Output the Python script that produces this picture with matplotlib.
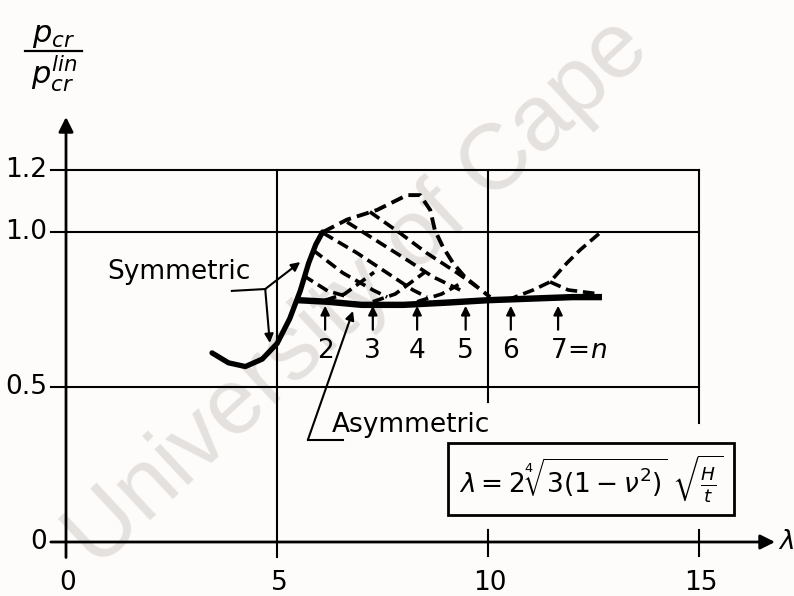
import matplotlib.pyplot as plt

plt.rcParams['mathtext.fontset'] = 'dejavusans'
plt.rcParams['font.family'] = 'DejaVu Sans'

# symmetric buckling branch (solid), rising up to the envelope
sym_x = [3.46, 3.85, 4.25, 4.65, 5.0, 5.3, 5.55, 5.75, 5.92, 6.08]
sym_y = [0.61, 0.578, 0.566, 0.59, 0.64, 0.72, 0.81, 0.9, 0.96, 1.0]

# dashed upper envelope of the symmetric region
env_x = [6.09, 6.66, 7.37, 8.08, 8.39, 8.63, 8.74, 8.93, 9.17, 9.45, 9.74, 10.05]
env_y = [1.0, 1.04, 1.071, 1.119, 1.119, 1.071, 1.006, 0.952, 0.9, 0.855, 0.823, 0.79]

# asymmetric buckling line
asym_x = [5.5, 6.2, 7.0, 8.0, 9.0, 10.0, 11.0, 12.0, 12.7]
asym_y = [0.78, 0.775, 0.765, 0.765, 0.772, 0.78, 0.785, 0.79, 0.79]

# descending dashed branches inside the region
desc_x = [[5.62, 6.2, 6.7],
          [5.85, 6.56, 7.27, 7.61],
          [6.09, 6.9, 7.61, 8.22, 8.55],
          [6.66, 7.44, 8.08, 8.7, 9.34],
          [7.2, 7.91, 8.55, 9.27, 9.74]]
desc_y = [[0.86, 0.81, 0.79],
          [0.942, 0.868, 0.813, 0.79],
          [0.997, 0.932, 0.868, 0.813, 0.79],
          [1.032, 0.965, 0.91, 0.855, 0.813],
          [1.065, 0.997, 0.932, 0.868, 0.823]]

# ascending dashed branches leaving the asymmetric line
asc_x = [[6.14, 6.6, 7.0, 7.3],
         [7.27, 7.8, 8.2, 8.5],
         [8.32, 8.9, 9.3],
         [10.45, 11.07, 11.47, 11.87, 12.18, 12.65]]
asc_y = [[0.78, 0.80, 0.84, 0.87],
         [0.775, 0.80, 0.84, 0.87],
         [0.775, 0.80, 0.83],
         [0.78, 0.813, 0.839, 0.9, 0.942, 0.997]]

tail_x = [11.47, 11.9, 12.3, 12.65]
tail_y = [0.839, 0.813, 0.806, 0.80]

# wave numbers n and where they touch the asymmetric line
n_labels = ['2', '3', '4', '5', '6']
n_x = [6.14, 7.27, 8.32, 9.47, 10.54, 11.66]

ytick_vals = [0, 0.5, 1.0, 1.2]
ytick_text = ['0', '0.5', '1.0', '1.2']
xtick_vals = [0, 5, 10, 15]

fig = plt.figure(figsize=(7.94, 5.96), dpi=100, facecolor='#fefcfa')
ax = fig.add_axes([0, 0, 1, 1])
ax.set_xlim(-1.564, 17.25)
ax.set_ylim(-0.1742, 1.7484)
ax.axis('off')
ax.set_facecolor('#fefcfa')

ax.text(0.452, 0.508, 'University of Cape', transform=ax.transAxes,
        fontsize=67, family='Liberation Sans', color='#e4e1de',
        rotation=43, ha='center', va='center', rotation_mode='anchor', zorder=0)

k = 'black'
glw = 1.5
# horizontal grid lines with their left ticks
for v in [0.5, 1.0, 1.2]:
    ax.plot([-0.36, 15], [v, v], color=k, lw=glw, zorder=1)
# vertical grid lines
ax.plot([5, 5], [-0.05, 1.2], color=k, lw=glw, zorder=1)
ax.plot([10, 10], [0.45, 1.2], color=k, lw=glw, zorder=1)
ax.plot([15, 15], [0.385, 1.2], color=k, lw=glw, zorder=1)
ax.plot([10, 10], [-0.045, 0.04], color=k, lw=glw, zorder=1)
ax.plot([15, 15], [-0.045, 0.04], color=k, lw=glw, zorder=1)

# axes with arrow heads
ax.annotate('', xy=(16.8, 0), xytext=(-0.36, 0),
            arrowprops=dict(arrowstyle='-|>', color=k, lw=2.0, mutation_scale=22,
                            shrinkA=0, shrinkB=0))
ax.annotate('', xy=(0, 1.371), xytext=(0, -0.05),
            arrowprops=dict(arrowstyle='-|>', color=k, lw=2.0, mutation_scale=22,
                            shrinkA=0, shrinkB=0))

for v, s in zip(ytick_vals, ytick_text):
    ax.text(-0.45, v, s, fontsize=19, ha='right', va='center')
for v in xtick_vals:
    ax.text(v + 0.05, -0.132, str(v), fontsize=19, ha='center', va='center')
ax.text(16.86, 0.0, r'$\lambda$', fontsize=19, ha='left', va='center')

# y axis quantity as a fraction
ax.text(-0.3, 1.635, r'$p_{cr}$', fontsize=22, ha='center', va='center')
ax.plot([-0.97, 0.38], [1.584, 1.584], color=k, lw=1.6)
ax.text(-0.28, 1.51, r'$p_{cr}^{lin}$', fontsize=22, ha='center', va='center')

dash = (0, (3.2, 1.6))
ax.plot(sym_x, sym_y, color=k, lw=3.8, solid_capstyle='round', zorder=3)
ax.plot(asym_x, asym_y, color=k, lw=4.6, solid_capstyle='butt', zorder=3)
ax.plot(env_x, env_y, color=k, lw=2.8, ls=dash, zorder=3)
for xs, ys in zip(desc_x, desc_y):
    ax.plot(xs, ys, color=k, lw=2.6, ls=dash, zorder=3)
for xs, ys in zip(asc_x, asc_y):
    ax.plot(xs, ys, color=k, lw=2.6, ls=dash, zorder=3)
ax.plot(tail_x, tail_y, color=k, lw=2.6, ls=dash, zorder=3)

# arrows marking the wave number n
for x in n_x:
    ax.annotate('', xy=(x, 0.762), xytext=(x, 0.685),
                arrowprops=dict(arrowstyle='-|>', color=k, lw=1.6, mutation_scale=13,
                                shrinkA=0, shrinkB=0))
for x, s in zip(n_x, n_labels):
    ax.text(x, 0.616, s, fontsize=19, ha='center', va='center')
ax.text(n_x[-1] - 0.2, 0.616, r'$7\!=\!n$', fontsize=19, ha='left', va='center')

# Symmetric label with its two leaders
ax.text(2.68, 0.871, 'Symmetric', fontsize=19, ha='center', va='center')
ax.plot([3.93, 4.72], [0.81, 0.816], color=k, lw=1.5)
for tip in [(5.55, 0.903), (4.83, 0.642)]:
    ax.annotate('', xy=tip, xytext=(4.72, 0.816),
                arrowprops=dict(arrowstyle='-|>', color=k, lw=1.5, mutation_scale=13,
                                shrinkA=0, shrinkB=0))

# Asymmetric label with its leader
ax.text(8.18, 0.377, 'Asymmetric', fontsize=19, ha='center', va='center')
ax.plot([5.73, 6.56], [0.329, 0.329], color=k, lw=1.5)
ax.annotate('', xy=(6.8, 0.745), xytext=(5.73, 0.329),
            arrowprops=dict(arrowstyle='-|>', color=k, lw=1.5, mutation_scale=13,
                            shrinkA=0, shrinkB=0))

ax.text(12.44, 0.203, r'$\lambda=2\sqrt[4]{3(1-\nu^2)}\;\sqrt{\frac{H}{t}}$',
        fontsize=19, ha='center', va='center',
        bbox=dict(boxstyle='square,pad=0.4', fc='#fefcfa', ec=k, lw=2.0))

fig.savefig('out.png', dpi=100, facecolor=fig.get_facecolor())
